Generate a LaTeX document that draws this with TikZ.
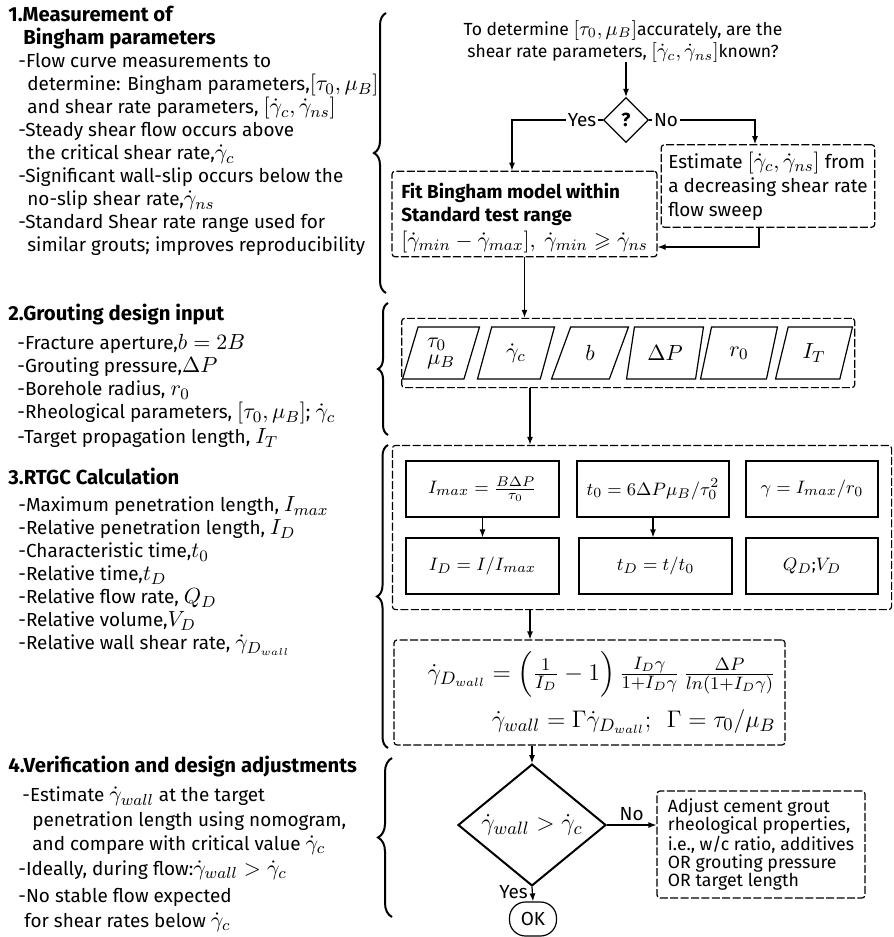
\documentclass[tikz,border=0pt,11pt]{standalone}
\usepackage{amsmath,amssymb}
\usepackage[no-math]{fontspec}
\setmainfont{Fira Sans}[Scale=0.86]
\usetikzlibrary{arrows.meta,positioning,shapes.geometric,fit,decorations.pathreplacing}
\tikzset{
  txt/.style={font=\fontsize{11}{11.5}\selectfont, inner sep=0pt},
  side/.style={txt, align=left, anchor=north west},
  grp/.style={draw, dash pattern=on 4pt off 1.2pt, rounded corners=1.5pt, semithick},
  calcbox/.style={txt, font=\fontsize{9.5}{11}\selectfont, draw, semithick, minimum height=28pt},
  parbox/.style={txt, draw, semithick, trapezium, trapezium left angle=73, trapezium right angle=107,
    trapezium stretches=true, minimum width=38.5pt, minimum height=26pt},
  dec/.style={txt, draw, diamond, aspect=1},
  arr/.style={-{Latex[length=4pt,width=3pt]}, semithick},
  lbl/.style={txt, fill=white, inner sep=1pt},
  brc/.style={decorate, decoration={brace, amplitude=#1}, line width=1pt},
  brc/.default=6pt,
}
\newcommand{\gd}{\dot{\gamma}}
\newcommand{\hd}[1]{{\fontsize{11.8}{11.5}\selectfont\bfseries #1}}

\begin{document}
\begin{tikzpicture}[x=0.5pt, y=-0.5pt]
  \useasboundingbox (0,0) rectangle (894,937);
  % left column
  \node[side] (s1) at (8,6) {\hd{1.Measurement of}\\
    \hspace*{7.5pt}\hd{Bingham parameters}\\
    \hspace*{5pt}-Flow curve measurements to\\
    \hspace*{9.5pt}determine: Bingham parameters,$[\tau_0,\mu_B]$\\
    \hspace*{9.5pt}and shear rate parameters, $[\gd_c,\gd_{ns}]$\\
    \hspace*{5pt}-Steady shear flow occurs above\\
    \hspace*{9.5pt}the critical shear rate,$\gd_c$\\
    \hspace*{5pt}-Significant wall-slip occurs below the\\
    \hspace*{9.5pt}no-slip shear rate,$\gd_{ns}$\\
    \hspace*{5pt}-Standard Shear rate range used for\\
    \hspace*{9.5pt}similar grouts; improves reproducibility};
  \node[side] (s2) at (8,304) {\hd{2.Grouting design input}\\[3pt]
    \hspace*{4.5pt}-Fracture aperture,$b=2B$\\
    \hspace*{4.5pt}-Grouting pressure,$\Delta P$\\
    \hspace*{4.5pt}-Borehole radius, $r_0$\\
    \hspace*{4.5pt}-Rheological parameters, $[\tau_0,\mu_B]$; $\gd_c$\\[1pt]
    \hspace*{4.5pt}-Target propagation length, $I_T$};
  \node[side] (s3) at (8,468) {\hd{3.RTGC Calculation}\\[2pt]
    \hspace*{5pt}-Maximum penetration length, $I_{max}$\\
    \hspace*{5pt}-Relative penetration length, $I_D$\\
    \hspace*{5pt}-Characteristic time,$t_0$\\
    \hspace*{5pt}-Relative time,$t_D$\\
    \hspace*{5pt}-Relative flow rate, $Q_D$\\
    \hspace*{5pt}-Relative volume,$V_D$\\
    \hspace*{5pt}-Relative wall shear rate, $\gd_{D_{wall}}$};
  \node[side, font=\fontsize{11}{12.3}\selectfont] (s4) at (8,756) {\hd{4.Verification and design adjustments}\\[2pt]
    \hspace*{7pt}-Estimate $\gd_{wall}$ at the target\\
    \hspace*{12pt}penetration length using nomogram,\\
    \hspace*{12pt}and compare with critical value $\gd_c$\\
    \hspace*{5pt}-Ideally, during flow:$\gd_{wall}>\gd_c$\\[1.5pt]
    \hspace*{5pt}-No stable flow expected\\
    \hspace*{8pt}for shear rates below $\gd_c$};
  % braces
  \draw[brc=6pt] (386,293) -- (386,13);
  \draw[brc=5pt] (388,435) -- (388,303);
  \draw[brc=5.5pt] (388,748) -- (388,445);
  \draw[brc=7pt] (392,917) -- (392,758);

  % 1. Bingham parameters
  \node[txt, font=\fontsize{10.2}{11}\selectfont, align=center] (quest) at (623,41)
    {To determine $[\tau_0,\mu_B]$accurately, are the\\
    shear rate parameters, $[\gd_c,\gd_{ns}]$known?};
  \node[dec, semithick, minimum size=22.5pt] (q) at (626,120) {\textbf{?}};
  \node[grp, txt, align=left, inner xsep=2pt, inner ysep=2pt, minimum width=132.5pt] (fit) at (524.5,214)
    {\rule{0pt}{11.5pt}\textbf{Fit Bingham model within}\\\textbf{Standard test range}\\[1.5pt]
     $[\gd_{min}-\gd_{max}],\ \gd_{min}\geqslant\gd_{ns}$};
  \node[grp, txt, font=\fontsize{11}{12}\selectfont, align=left, inner sep=3.5pt, minimum width=105pt,
    minimum height=41pt] (est) at (768,186)
    {Estimate $[\gd_c,\gd_{ns}]$ from\\a decreasing shear rate\\flow sweep};
  \coordinate (yc) at (512,120);
  \coordinate (nc) at (755,120);
  \coordinate (ec) at (759,247);
  \draw[arr] (quest.south -| q) -- (q.north);
  \draw[arr] (q.west) -- node[lbl, pos=0.23]{Yes} (yc) -- (yc |- fit.north);
  \draw[arr] (q.east) -- node[lbl, pos=0.16]{No} (nc) -- (nc |- est.north);
  \draw[arr] (est.south -| ec) -- (ec) -- (ec -| fit.east);

  % 2. design input
  \node[parbox, align=left] (p1) at (441,353) {$\tau_0$\\[-3pt]$\mu_B$};
  \node[parbox] (p2) at (516,353) {$\gd_c$};
  \node[parbox] (p3) at (590,353) {$b$};
  \node[parbox] (p4) at (665,353) {$\Delta P$};
  \node[parbox] (p5) at (739,353) {$r_0$};
  \node[parbox] (p6) at (814,353) {$I_T$};
  \node[grp, fit=(p1)(p6), inner xsep=4pt, inner ysep=4pt] (inp) {};
  \draw[arr] (fit.south) -- (fit.south |- inp.north);

  % 3. RTGC calculation
  \node[calcbox, minimum width=76.5pt] (c1) at (482.5,489) {$I_{max}=\frac{B\Delta P}{\tau_0}$};
  \node[calcbox, minimum width=76pt] (c2) at (653,489) {$t_0=6\Delta P\mu_B/\tau_0^2$};
  \node[calcbox, minimum width=66pt] (c3) at (812,489) {$\gamma=I_{max}/r_0$};
  \node[calcbox, minimum width=76.5pt] (c4) at (482.5,566) {$I_D=I/I_{max}$};
  \node[calcbox, minimum width=76.5pt] (c5) at (655.5,566) {$t_D=t/t_0$};
  \node[calcbox, minimum width=66pt] (c6) at (812,566) {$Q_D$;$V_D$};
  \node[grp, fit=(c1)(c6), inner xsep=6.5pt, inner ysep=7.5pt] (calc) {};
  \draw[arr] (c1.south) -- (c4.north);
  \draw[arr] (c2.south) -- (c2.south |- c5.north);
  \coordinate (sp) at (530,0);
  \draw[arr] (inp.south -| sp) -- (calc.north -| sp);
  \node[grp, txt, font=\fontsize{12.7}{12.7}\selectfont, align=flush right, text width=186pt, inner xsep=4.75pt,
    minimum height=52.5pt] (form) at (589.5,692.5)
    {$\gd_{D_{wall}}=\Big(\frac{1}{I_D}-1\Big)\,\frac{I_D\gamma}{1+I_D\gamma}\,\frac{\Delta P}{ln(1+I_D\gamma)}$\\[5pt]
     $\gd_{wall}=\Gamma\gd_{D_{wall}};\ \ \Gamma=\tau_0/\mu_B$};
  \draw[arr] (calc.south -| sp) -- (form.north -| sp);

  % 4. verification
  \node[dec, font=\fontsize{12.6}{12.6}\selectfont, line width=1pt, minimum width=74pt, minimum height=43pt]
    (chk) at (532,825) {$\gd_{wall}>\gd_c$};
  \node[grp, txt, align=left, inner sep=3.5pt, minimum width=104pt, minimum height=53.5pt,
    font=\fontsize{10.3}{9}\selectfont] (adj) at (761,844.5)
    {Adjust cement grout\\rheological properties,\\i.e., w/c ratio, additives\\OR grouting pressure\\OR target length};
  \node[txt, draw, semithick, rounded corners=8pt, minimum width=23.5pt, minimum height=17pt] (ok) at (533,919) {OK};
  \draw[arr] (form.south -| chk) -- (chk.north);
  \draw[arr] (chk.east) -- node[txt, above, inner sep=2pt]{No} (chk.east -| adj.west);
  \draw[arr] (chk.south) -- node[txt, left, inner sep=2pt, pos=0.35]{Yes} (ok.north);
\end{tikzpicture}
\end{document}
